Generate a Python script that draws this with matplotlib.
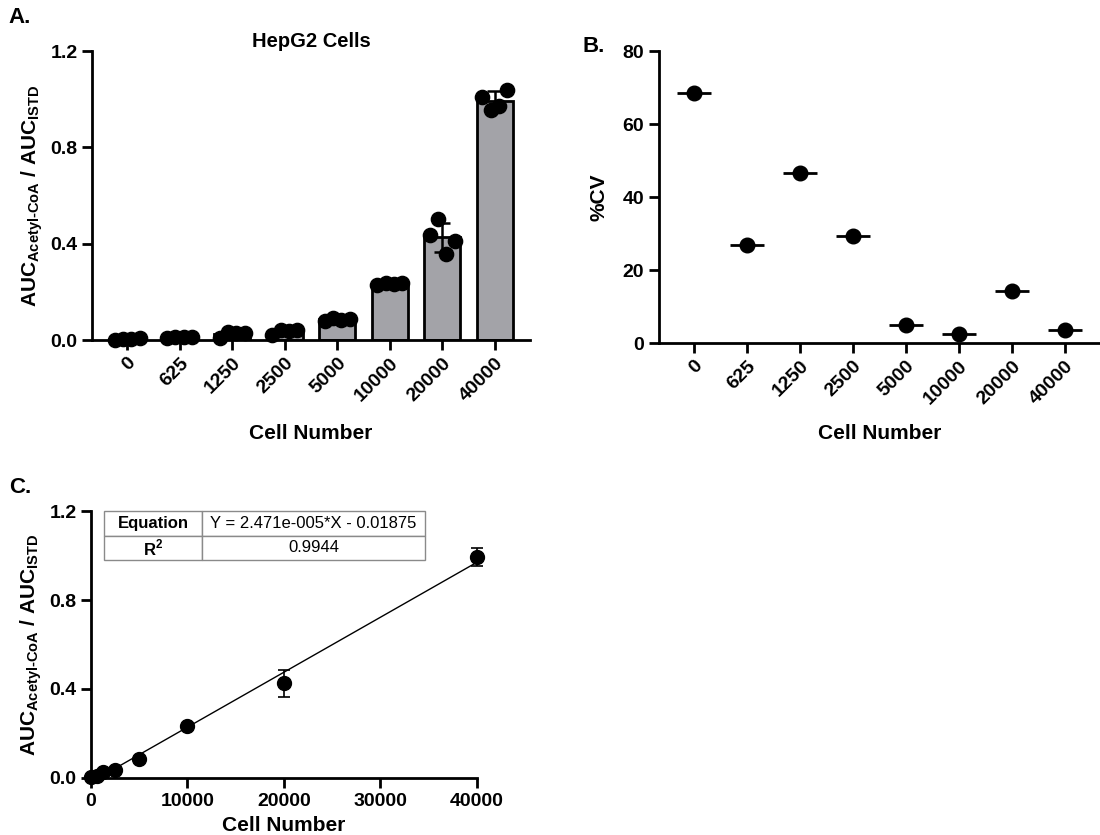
import numpy as np
import matplotlib
matplotlib.use('Agg')
import matplotlib.pyplot as plt

plt.rcParams['font.family'] = ['Liberation Sans', 'DejaVu Sans']
plt.rcParams['font.weight'] = 'bold'
plt.rcParams['mathtext.fontset'] = 'custom'
plt.rcParams['mathtext.rm'] = 'Liberation Sans:bold'
plt.rcParams['mathtext.bf'] = 'Liberation Sans:bold'

# data
cells = ['0', '625', '1250', '2500', '5000', '10000', '20000', '40000']
cell_num = [0, 625, 1250, 2500, 5000, 10000, 20000, 40000]
reps = [
    [0.002, 0.004, 0.006, 0.008],
    [0.007, 0.012, 0.011, 0.013],
    [0.010, 0.035, 0.030, 0.030],
    [0.020, 0.042, 0.036, 0.042],
    [0.080, 0.090, 0.085, 0.088],
    [0.228, 0.238, 0.232, 0.236],
    [0.434, 0.504, 0.356, 0.410],
    [1.011, 0.954, 0.970, 1.040],
]
cv = [68.5, 26.8, 46.7, 29.3, 5.0, 2.5, 14.2, 3.7]
slope = 2.471e-5
intercept = -0.01875
r2 = 0.9944

means = [np.mean(r) for r in reps]
sds = [np.std(r, ddof=1) for r in reps]
ylab = 'AUC$_{\\mathregular{Acetyl\u2010CoA}}$ / AUC$_{\\mathregular{ISTD}}$'

fig = plt.figure(figsize=(11, 8.35), dpi=100)

def style(ax):
    for s in ['top', 'right']:
        ax.spines[s].set_visible(False)
    for s in ['left', 'bottom']:
        ax.spines[s].set_linewidth(2.0)
    ax.tick_params(width=2.0, length=7, labelsize=14)
    for lab in ax.get_xticklabels() + ax.get_yticklabels():
        lab.set_fontweight('bold')

# ---- A
axA = fig.add_axes([0.0836, 0.5928, 0.4818 - 0.0836, 0.9389 - 0.5928])
x = np.arange(len(cells))
axA.bar(x, means, width=0.68, color='#a3a3a8', edgecolor='black', linewidth=2.0, zorder=1)
axA.errorbar(x, means, yerr=sds, fmt='none', ecolor='black', elinewidth=1.8, capsize=6, capthick=1.8, zorder=2)
offs = [-0.24, -0.08, 0.08, 0.24]
for i, r in enumerate(reps):
    axA.scatter(x[i] + np.array(offs), r, s=105, color='black', zorder=3, clip_on=False)
axA.set_xlim(-0.67, 7.67)
axA.set_ylim(0, 1.2)
axA.set_yticks([0, 0.4, 0.8, 1.2])
axA.set_yticklabels(['0.0', '0.4', '0.8', '1.2'])
axA.set_xticks(x)
axA.set_xticklabels(cells, rotation=45, ha='right', rotation_mode='anchor')
axA.set_xlabel('Cell Number', fontsize=15, fontweight='bold', labelpad=14)
axA.set_ylabel(ylab, fontsize=15, fontweight='bold', labelpad=4)
axA.set_title('HepG2 Cells', fontsize=14.5, fontweight='bold', pad=3)
style(axA)

# ---- B
axB = fig.add_axes([0.599, 0.5892, 1.0 - 0.599, 0.9389 - 0.5892])
axB.errorbar(x, cv, xerr=0.32, fmt='o', color='black', ms=10.5, elinewidth=2.0, capsize=0, clip_on=False)
axB.set_xlim(-0.66, 7.66)
axB.set_ylim(0, 80)
axB.set_yticks([0, 20, 40, 60, 80])
axB.set_xticks(x)
axB.set_xticklabels(cells, rotation=45, ha='right', rotation_mode='anchor')
axB.set_xlabel('Cell Number', fontsize=15, fontweight='bold', labelpad=12)
axB.set_ylabel('%CV', fontsize=15, fontweight='bold', labelpad=10)
style(axB)

# ---- C
axC = fig.add_axes([0.0827, 0.0683, 0.4336 - 0.0827, 0.388 - 0.0683])
x0 = -intercept / slope
xf = np.array([x0, 40000])
axC.plot(xf, slope * xf + intercept, color='black', lw=1.0, zorder=1)
axC.errorbar(cell_num, means, yerr=sds, fmt='o', color='black', ms=10, elinewidth=1.2,
             capsize=4, capthick=1.2, clip_on=False, zorder=3)
axC.set_xlim(0, 40000)
axC.set_ylim(0, 1.2)
axC.set_yticks([0, 0.4, 0.8, 1.2])
axC.set_yticklabels(['0.0', '0.4', '0.8', '1.2'])
axC.set_xticks([0, 10000, 20000, 30000, 40000])
axC.set_xlabel('Cell Number', fontsize=15, fontweight='bold', labelpad=5)
axC.set_ylabel(ylab, fontsize=15, fontweight='bold', labelpad=4)
style(axC)

tbl = axC.table(cellText=[['Equation', 'Y = %.3fe-005*X - %.5f' % (slope * 1e5, -intercept)],
                          ['R$^2$', '%.4f' % r2]],
                cellLoc='center', bbox=[0.034, 0.816, 0.831, 0.184],
                colWidths=[0.254, 0.577])
tbl.auto_set_font_size(False)
for (r, c), cell in tbl.get_celld().items():
    cell.set_edgecolor('#8a8a8a')
    cell.set_linewidth(1.0)
    cell.get_text().set_fontsize(12)
    cell.get_text().set_fontweight('bold' if c == 0 else 'normal')

fig.text(0.008, 0.972, 'A.', fontsize=16, fontweight='bold')
fig.text(0.530, 0.938, 'B.', fontsize=16, fontweight='bold')
fig.text(0.008, 0.41, 'C.', fontsize=16, fontweight='bold')

fig.savefig('out.png', dpi=100)
